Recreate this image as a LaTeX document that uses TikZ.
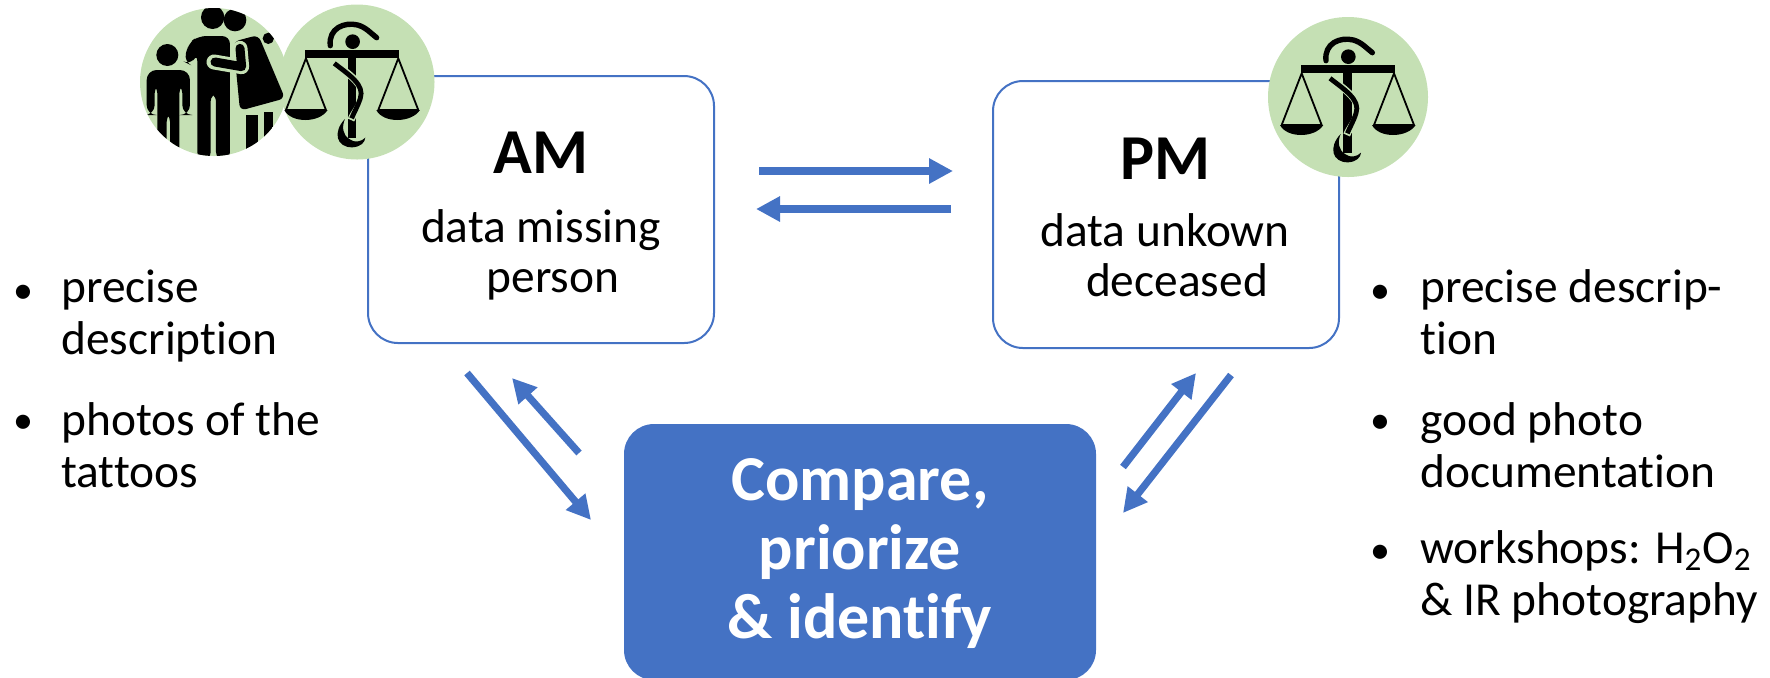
\documentclass[tikz,border=0pt]{standalone}
\usepackage{fontspec}
\setmainfont{Carlito}[Ligatures=NoCommon]
\usepackage{xcolor}
\usetikzlibrary{arrows.meta}
\definecolor{boxblue}{RGB}{68,114,196}
\definecolor{icongreen}{RGB}{197,224,180}
\tikzset{
    databox/.style={draw=boxblue, line width=1pt, fill=white, rounded corners=15pt, minimum width=173pt, minimum height=133.5pt, inner sep=0pt},
    comparebox/.style={fill=boxblue, rounded corners=15pt, minimum width=236pt, minimum height=128pt, inner sep=0pt},
    flow/.style={draw=boxblue, line width=3.6pt, -{Triangle[length=12pt,width=12pt]}},
    headline/.style={font=\fontsize{32}{36}\selectfont\bfseries, anchor=base, inner sep=0pt},
    dataline/.style={font=\fontsize{23.7}{26}\selectfont, anchor=base, inner sep=0pt},
    comparetext/.style={font=\fontsize{32}{38}\selectfont\bfseries, text=white, anchor=base, inner sep=0pt},
    listtext/.style={font=\fontsize{23.7}{26}\selectfont, anchor=base west, align=left, inner sep=0pt},
    listdot/.style={font=\fontsize{20}{26}\selectfont, anchor=base west, inner sep=0pt},
    scaleicon/.pic={
        \begin{scope}[x=1/6 pt, y=1/6 pt]
            % beam, head and staff
            \fill[black] (152,165) rectangle (435,190);
            \fill[black] (295,140) circle (22);
            \fill[black] (280,190) rectangle (305,430);
            \draw[black, line width=2.7pt, line cap=round] (228,152) .. controls (222,100) and (270,80) .. (310,90) .. controls (335,97) and (350,115) .. (367,128);
            % snake
            \draw[icongreen, line width=3.6pt] (235,200) .. controls (280,235) and (335,270) .. (322,310) .. controls (315,340) and (300,350) .. (290,375);
            \draw[black, line width=2.4pt] (240,205) .. controls (285,240) and (332,270) .. (318,310) .. controls (310,335) and (300,350) .. (292,370);
            \fill[black] (272,372) .. controls (235,410) and (245,458) .. (295,457) .. controls (320,455) and (332,442) .. (333,428) .. controls (322,440) and (300,445) .. (285,432) .. controls (265,420) and (262,395) .. (272,372) -- cycle;
            % pans
            \draw[black, line width=0.9pt, line join=round] (155,190) -- (95,345) -- (215,345) -- cycle;
            \draw[black, line width=0.9pt, line join=round] (432,190) -- (372,345) -- (492,345) -- cycle;
            \fill[black] (90,345) .. controls (110,385) and (195,385) .. (220,345) -- cycle;
            \fill[black] (366,345) .. controls (386,385) and (471,385) .. (497,345) -- cycle;
        \end{scope}
    }
}
\begin{document}
\begin{tikzpicture}[x=0.5pt, y=-0.5pt]
    \useasboundingbox (0,0) rectangle (1770,677);
    \clip (0,0) rectangle (1770,677);

    % Data boxes
    \node[databox] (amBox) at (541,209.5) {};
    \node[databox] (pmBox) at (1166,214.5) {};
    \node[comparebox] (compareBox) at (860,552) {};

    % Box texts
    \node[headline] (amTitle) at (541,173) {AM};
    \node[dataline] (amLineA) at (541,242) {data missing};
    \node[dataline] (amLineB) at (553,292) {person};
    \node[headline] (pmTitle) at (1165,179) {PM};
    \node[dataline] (pmLineA) at (1165,246) {data unkown};
    \node[dataline] (pmLineB) at (1177,296) {deceased};
    \node[comparetext] (compareA) at (860,500) {Compare,};
    \node[comparetext] (compareB) at (860,569) {priorize};
    \node[comparetext] (compareC) at (860,638) {\& identify};

    % Flows between the boxes
    \coordinate (topA) at (759,171);
    \coordinate (topB) at (953,171);
    \coordinate (lowA) at (951,209);
    \coordinate (lowB) at (756,209);
    \draw[flow] (topA) -- (topB);
    \draw[flow] (lowA) -- (lowB);

    \coordinate (amOutA) at (467,373);
    \coordinate (amOutB) at (591,520);
    \coordinate (amInA) at (579,453);
    \coordinate (amInB) at (512,378);
    \draw[flow] (amOutA) -- (amOutB);
    \draw[flow] (amInA) -- (amInB);

    \coordinate (pmInA) at (1123,467);
    \coordinate (pmInB) at (1196,373);
    \coordinate (pmOutA) at (1231,375);
    \coordinate (pmOutB) at (1123,513);
    \draw[flow] (pmInA) -- (pmInB);
    \draw[flow] (pmOutA) -- (pmOutB);

    % Family icon
    \fill[icongreen] (214,82) circle (74);
    \fill[icongreen] (357,82) circle (77.5);
    \begin{scope}
        \clip (214,82) circle (74);
        \begin{scope}[shift={(130,0)}, x=1/6 pt, y=-1/6 pt]
            \fill[black] (112,165) circle (33);
            \fill[black, rounded corners=5pt] (50,345) -- (50,210) -- (180,210) -- (180,345) -- (157,345) -- (157,250) -- (148,250) -- (148,480) -- (120,480) -- (120,335) -- (110,335) -- (110,480) -- (82,480) -- (82,250) -- (74,250) -- (74,345) -- cycle;
            \fill[black] (248,52) circle (35);
            \fill[black] (315,60) circle (34);
            \fill[black, rounded corners=4pt] (162,185) -- (175,130) -- (205,108) -- (300,108) -- (300,480) -- (258,480) -- (258,280) -- (242,280) -- (242,480) -- (202,480) -- (202,160) -- (182,195) -- cycle;
            \fill[black, rounded corners=3pt] (310,125) -- (385,105) -- (465,295) -- (330,332) -- cycle;
            \fill[black] (415,115) circle (17);
            \fill[black] (348,345) rectangle (385,460);
            \fill[black] (402,335) rectangle (428,460);
            \draw[icongreen, line width=7.5pt, line cap=round, line join=round] (330,145) -- (335,200) -- (252,186);
            \draw[black, line width=4.5pt, line cap=round, line join=round] (330,145) -- (335,200) -- (255,186);
        \end{scope}
    \end{scope}

    % Scale icons
    \pic[shift={(254.3,-5)}, yscale=-1] (amScale) {scaleicon};
    \fill[icongreen] (1348,97) circle (80);
    \pic[shift={(1250,10)}, yscale=-1] (pmScale) {scaleicon};

    % Left list
    \node[listdot] (leftDotA) at (13,303) {•};
    \node[listtext] (leftItemA) at (61,354) {precise\\description};
    \node[listdot] (leftDotB) at (13,433) {•};
    \node[listtext] (leftItemB) at (61,487) {photos of the\\tattoos};

    % Right list
    \node[listdot] (rightDotA) at (1370,303) {•};
    \node[listtext] (rightItemA) at (1420,354) {precise descrip-\\tion};
    \node[listdot] (rightDotB) at (1370,433) {•};
    \node[listtext] (rightItemB) at (1420,487) {good photo\\documentation};
    \node[listdot] (rightDotC) at (1370,563) {•};
    \node[listtext] (rightItemC) at (1420,615) {workshops: H\textsubscript{2}O\textsubscript{2}\\\& IR photography};
\end{tikzpicture}
\end{document}
